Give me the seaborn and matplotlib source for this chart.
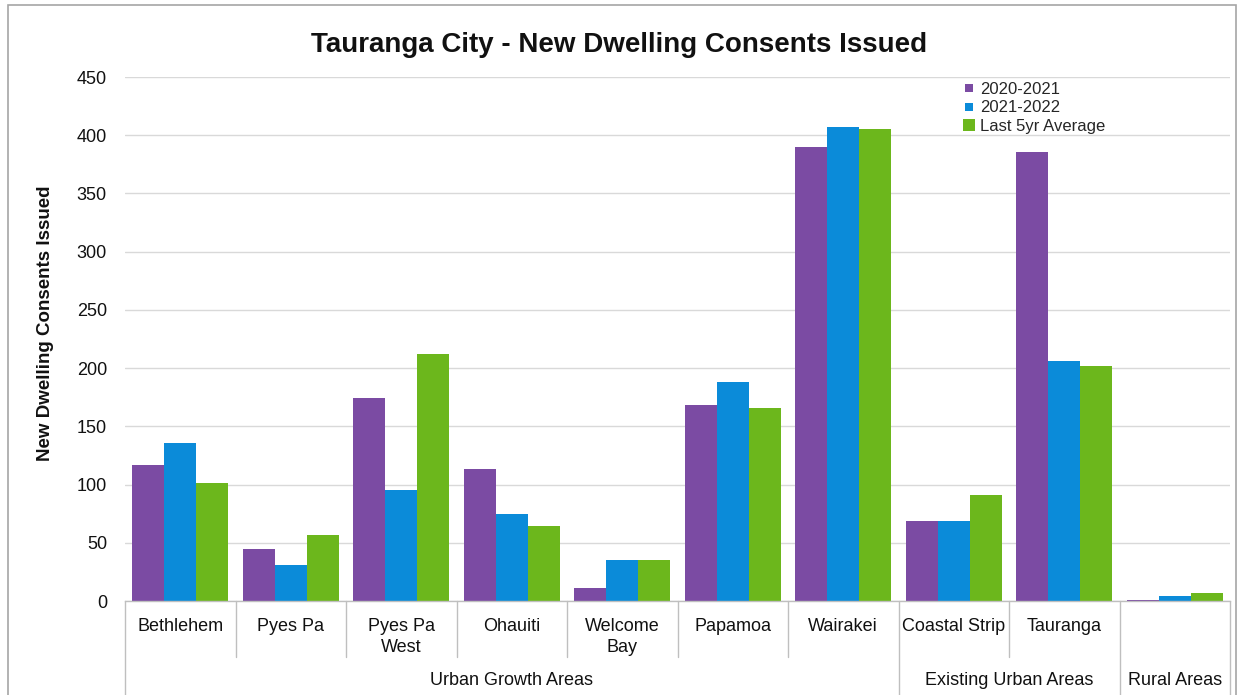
import matplotlib
matplotlib.use("Agg")
import matplotlib.pyplot as plt
from matplotlib.lines import Line2D
from matplotlib.patches import Rectangle
import seaborn as sns
import pandas as pd

# Areas, in display order, and their parent groupings
areas = ["Bethlehem", "Pyes Pa", "Pyes Pa West", "Ohauiti", "Welcome Bay",
         "Papamoa", "Wairakei", "Coastal Strip", "Tauranga", "Rural Areas "]
area_labels = ["Bethlehem", "Pyes Pa", "Pyes Pa\nWest", "Ohauiti", "Welcome\nBay",
               "Papamoa", "Wairakei", "Coastal Strip", "Tauranga", ""]
groups = ["Urban Growth Areas", "Existing Urban Areas", "Rural Areas"]
group_sizes = [7, 2, 1]

periods = ["2020-2021", "2021-2022", "Last 5yr Average"]
consents_2020_21 = [117, 45, 174, 113, 11, 168, 390, 69, 386, 1]
consents_2021_22 = [136, 31, 95, 75, 35, 188, 407, 69, 206, 4]
consents_5yr_avg = [101, 57, 212, 64, 35, 166, 405, 91, 202, 7]

colors = ["#7B4BA3", "#0B8BD9", "#6CB71C"]

yticks = list(range(0, 451, 50))

df = pd.DataFrame({
    "area": areas * 3,
    "period": [p for p in periods for _ in areas],
    "value": consents_2020_21 + consents_2021_22 + consents_5yr_avg,
})

sns.set_theme(style="white")
plt.rcParams["font.family"] = ["Liberation Sans", "DejaVu Sans"]

W, H = 1239, 695
fig = plt.figure(figsize=(W / 100, H / 100), dpi=100)
ax = fig.add_axes([125 / W, 1 - 601 / H, 1105 / W, 524 / H])

sns.barplot(data=df, x="area", y="value", hue="period", order=areas,
            hue_order=periods, palette=colors, saturation=1, width=0.87,
            gap=0, linewidth=0, legend=False, ax=ax)

ax.set_xlim(-0.5, len(areas) - 0.5)
ax.set_ylim(0, 450)
ax.set_yticks(yticks)
ax.set_yticklabels([str(v) for v in yticks], fontsize=13, color="#111111")
ax.tick_params(axis="y", length=0, pad=13)
ax.yaxis.grid(True, color="#D9D9D9", linewidth=1)
ax.set_axisbelow(True)

ax.set_xticks(range(len(areas)))
ax.set_xticklabels(area_labels, fontsize=13, color="#111111", linespacing=1.35)
ax.tick_params(axis="x", length=0, pad=12)
ax.set_xlabel("")
ax.set_ylabel("New Dwelling Consents Issued", fontsize=13.5, fontweight="bold",
              color="#111111")
ax.yaxis.set_label_coords(-0.064, 0.53)

for side in ["left", "right", "top"]:
    ax.spines[side].set_visible(False)
ax.spines["bottom"].set_color("#BFBFBF")
ax.spines["bottom"].set_linewidth(1)

# Category separators below the axis; group boundaries run longer
trans = ax.get_xaxis_transform()
boundaries = [i - 0.5 for i in range(len(areas) + 1)]
group_edges = {-0.5}
acc = -0.5
for n in group_sizes:
    acc += n
    group_edges.add(acc)
for b in boundaries:
    low = -0.19 if b in group_edges else -0.107
    ax.plot([b, b], [0, low], transform=trans, color="#BFBFBF",
            linewidth=1, clip_on=False)

# Group labels centred under their areas
start = 0
for name, n in zip(groups, group_sizes):
    centre = start + (n - 1) / 2
    ax.text(centre, -0.151, name, transform=trans, ha="center", va="center",
            fontsize=13, color="#111111")
    start += n

# Legend with small square keys
sizes = [6, 6, 8.5]
handles = [Line2D([], [], marker="s", linestyle="none", markersize=s,
                  markerfacecolor=c, markeredgewidth=0)
           for c, s in zip(colors, sizes)]
fig.legend(handles, periods, loc="upper left",
           bbox_to_anchor=(963 / W, 1 - 82 / H), frameon=False, fontsize=12,
           handlelength=0.7, handletextpad=0.35, labelspacing=0.2,
           borderpad=0, borderaxespad=0)

fig.text(0.5, 1 - 45 / H, "Tauranga City - New Dwelling Consents Issued",
         ha="center", va="center", fontsize=20, fontweight="bold",
         color="#111111")

# Outer chart border
fig.patches.append(Rectangle((8 / W, -0.02), (1236 - 8) / W, 1 - 5 / H + 0.02,
                             transform=fig.transFigure, fill=False,
                             edgecolor="#A6A6A6", linewidth=1.2))

fig.savefig("out.png", dpi=100)
